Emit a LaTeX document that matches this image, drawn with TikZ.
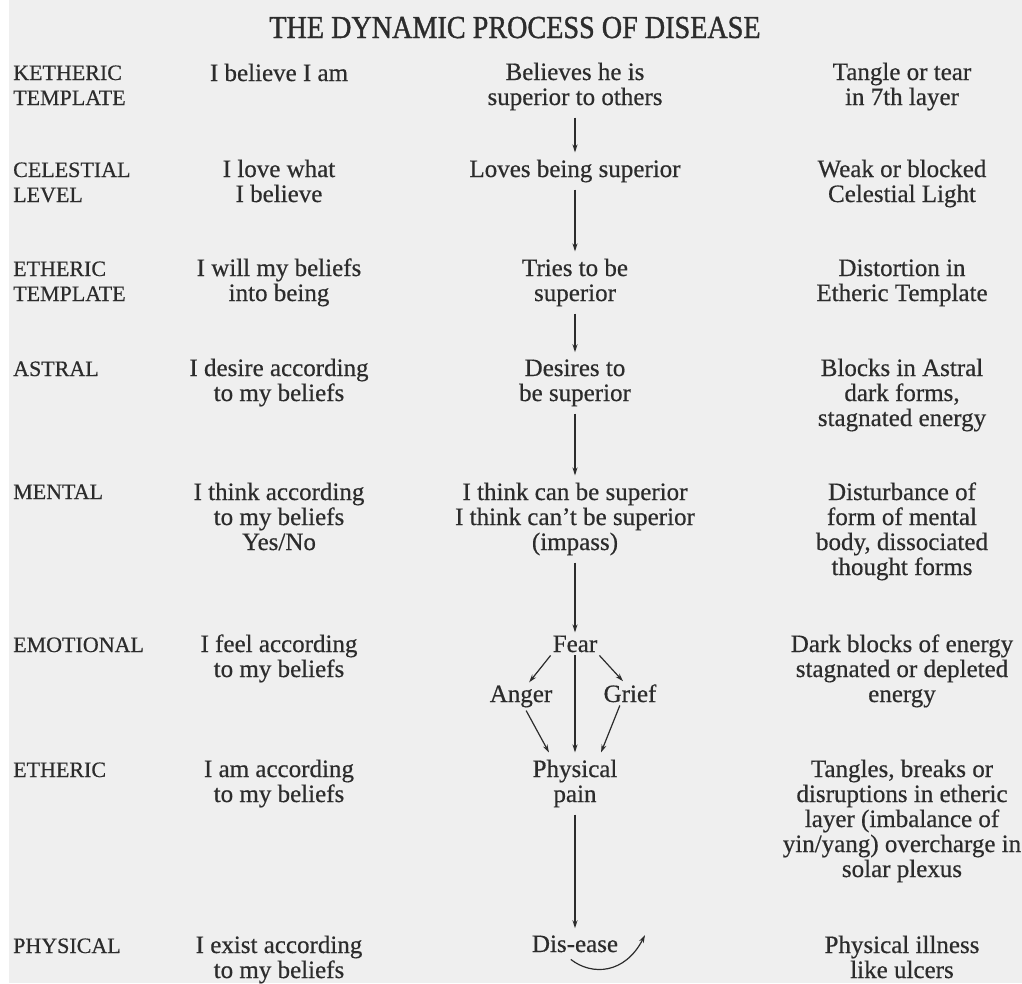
\documentclass[tikz,border=0pt]{standalone}
\usepackage{fontspec}
\setmainfont{Liberation Serif}[FakeBold=0.5]
\usepackage{graphicx}
\usepackage{tikz}
\usetikzlibrary{arrows.meta}
\definecolor{pagegrey}{HTML}{EFEFEF}
\definecolor{inkgrey}{HTML}{2C2C2C}
\newcommand{\bodysize}{\fontsize{25}{25}\selectfont}

\begin{document}
\begin{tikzpicture}[
        x=1pt, y=-1pt,
        >={Stealth[length=8pt,width=5pt]},
        every node/.style={text=inkgrey},
        bodyname/.style={anchor=base west, inner sep=0pt, align=left,
                         font=\fontsize{22}{25}\selectfont},
        belief/.style={anchor=base, inner sep=0pt, align=center, font=\bodysize},
        stage/.style={anchor=base, inner xsep=2pt, inner ysep=7pt, align=center,
                      font=\bodysize},
        feeling/.style={stage, inner ysep=3pt},
        effect/.style={anchor=base, inner sep=0pt, align=center, font=\bodysize},
        flow/.style={draw=inkgrey, line width=1.2pt, ->}
    ]
      \useasboundingbox (0,0) rectangle (1022,983);
      \fill[pagegrey] (9,0) rectangle (1022,983);

      % --- Title ---
      \node[anchor=base, font=\fontsize{32}{32}\selectfont] (title) at (515,38)
        {\scalebox{0.88}[1]{\addfontfeature{FakeBold=1.2}THE DYNAMIC PROCESS OF DISEASE}};

      % --- Bodies (placed at the baseline of the last line) ---
      \node[bodyname] (ket) at (13,105) {KETHERIC\\TEMPLATE};
      \node[bodyname] (cel) at (13,202) {CELESTIAL\\LEVEL};
      \node[bodyname] (etT) at (13,301) {ETHERIC\\TEMPLATE};
      \node[bodyname] (ast) at (13,376) {ASTRAL};
      \node[bodyname] (men) at (13,499) {MENTAL};
      \node[bodyname] (emo) at (13,652) {EMOTIONAL};
      \node[bodyname] (eth) at (13,777) {ETHERIC};
      \node[bodyname] (phy) at (13,953) {PHYSICAL};

      % --- Beliefs ---
      \node[belief] (bket) at (279,81) {I believe I am};
      \node[belief] (bcel) at (279,202) {I love what\\I believe};
      \node[belief] (betT) at (279,301) {I will my beliefs\\into being};
      \node[belief] (bast) at (279,401) {I desire according\\to my beliefs};
      \node[belief] (bmen) at (279,550) {I think according\\to my beliefs\\Yes/No};
      \node[belief] (bemo) at (279,677) {I feel according\\to my beliefs};
      \node[belief] (beth) at (279,802) {I am according\\to my beliefs};
      \node[belief] (bphy) at (279,978) {I exist according\\to my beliefs};

      % --- Process column ---
      \node[stage] (sup) at (575,105) {Believes he is\\superior to others};
      \node[stage] (love) at (575,177) {Loves being superior};
      \node[stage] (tries) at (575,301) {Tries to be\\superior};
      \node[stage] (desire) at (575,401) {Desires to\\be superior};
      \node[stage] (think) at (575,550) {I think can be superior\\I think can’t be superior\\(impass)};
      \node[feeling] (fear) at (575,652) {Fear};
      \node[feeling] (anger) at (521,702) {Anger};
      \node[feeling] (grief) at (630,702) {Grief};
      \node[stage] (pain) at (575,802) {Physical\\pain};
      \node[stage] (dis) at (575,952) {Dis-ease};
      \coordinate (disloop) at (645,935);

      \draw[flow] (sup) -- (love);
      \draw[flow] (love) -- (tries);
      \draw[flow] (tries) -- (desire);
      \draw[flow] (desire) -- (think);
      \draw[flow] (think) -- (fear);
      \draw[flow] (fear.south west) -- (anger.60);
      \draw[flow] (fear.south east) -- (grief.120);
      \draw[flow] (fear) -- (pain);
      \draw[flow] (anger.-70) -- (pain.130);
      \draw[flow] (grief.-130) -- (pain.50);
      \draw[flow] (pain) -- (dis);
      \draw[flow] (dis.-105) .. controls (592,976) and (625,974) .. (disloop);

      % --- Effects ---
      \node[effect] (tear) at (902,105) {Tangle or tear\\in 7th layer};
      \node[effect] (weak) at (902,202) {Weak or blocked\\Celestial Light};
      \node[effect] (distort) at (902,301) {Distortion in\\Etheric Template};
      \node[effect] (blocks) at (902,426) {Blocks in Astral\\dark forms,\\stagnated energy};
      \node[effect] (disturb) at (902,575) {Disturbance of\\form of mental\\body, dissociated\\thought forms};
      \node[effect] (dark) at (902,702) {Dark blocks of energy\\stagnated or depleted\\energy};
      \node[effect] (tangles) at (902,877) {Tangles, breaks or\\disruptions in etheric\\layer (imbalance of\\yin/yang) overcharge in\\solar plexus};
      \node[effect] (illness) at (902,978) {Physical illness\\like ulcers};
    \end{tikzpicture}
\end{document}
